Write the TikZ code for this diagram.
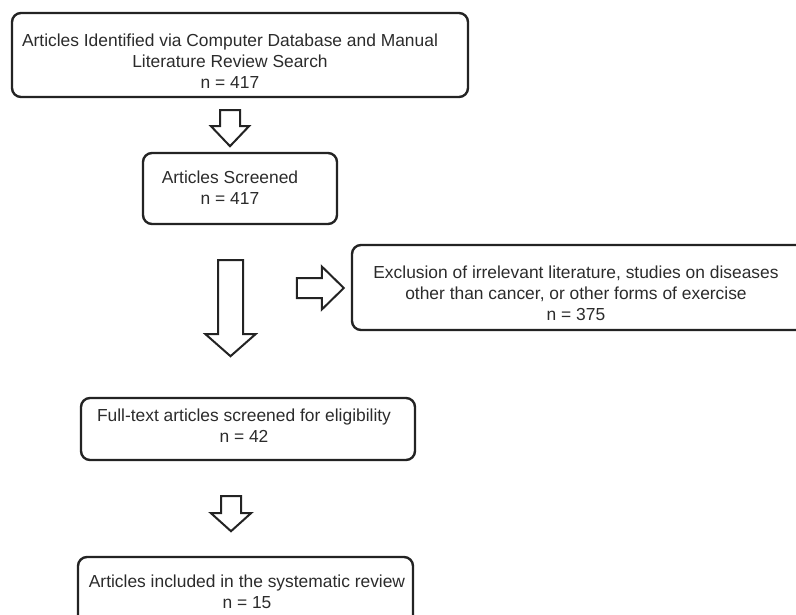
\documentclass[tikz,border=0pt]{standalone}
\usepackage{fontspec}
\setmainfont{Liberation Sans}
\usetikzlibrary{calc}
\definecolor{edgeink}{HTML}{232323}
\definecolor{textink}{HTML}{2B2B2B}
\tikzset{
  boxy/.style    = {rounded corners=9pt, draw=edgeink, line width=2.4pt, inner sep=0pt},
  boxtxt/.style  = {text=textink, align=center, inner sep=0pt,
                    font=\fontsize{17.4}{21}\selectfont},
  blockarrow/.style = {draw=edgeink, line width=2pt, fill=white, line join=miter},
  % #1 length, #2 shaft half width, #3 head half width, #4 head length
  pics/blockarr/.style n args={4}{code={
    \draw[blockarrow] (-#2,0) -- (-#2,#1-#4) -- (-#3,#1-#4) -- (0,#1)
      -- (#3,#1-#4) -- (#2,#1-#4) -- (#2,0) -- cycle;
  }},
}
\begin{document}
\begin{tikzpicture}[x=1pt,y=-1pt]
    \useasboundingbox (0,0) rectangle (796,614);
    \clip (0,0) rectangle (796,614);
    % boxes
    \node[boxy,minimum width=456pt,minimum height=84pt] (ident) at (240,55) {};
    \node[boxy,minimum width=194pt,minimum height=71pt] (screen) at (240,188.5) {};
    \node[boxy,minimum width=458pt,minimum height=85pt] (excl) at (581,287.5) {};
    \node[boxy,minimum width=334pt,minimum height=62pt] (full) at (248,429) {};
    \node[boxy,minimum width=335pt,minimum height=83pt] (incl) at (245.5,598.5) {};
    % texts
    \node[boxtxt] (identtxt) at (230,61) {Articles Identified via Computer Database and Manual\\Literature Review Search\\n = 417};
    \node[boxtxt] (screentxt) at (230,188) {Articles Screened\\n = 417};
    \node[boxtxt] (excltxt) at (576,293) {Exclusion of irrelevant literature, studies on diseases\\other than cancer, or other forms of exercise\\n = 375};
    \node[boxtxt] (fulltxt) at (244,426) {Full-text articles screened for eligibility\\n = 42};
    \node[boxtxt] (incltxt) at (247,592) {Articles included in the systematic review\\n = 15};
    % block arrows
    \pic at ($(ident.south)+(-10,12)$) {blockarr={36}{10}{19}{20}};
    \pic at ($(screen.south)+(-9.5,35)$) {blockarr={96}{12.5}{25}{22}};
    \pic[rotate=90] at ($(excl.west)+(-54,0.5)$) {blockarr={47}{10}{21.5}{22}};
    \pic at ($(full.south)+(-17,35)$) {blockarr={35}{10}{20}{18}};
\end{tikzpicture}
\end{document}
